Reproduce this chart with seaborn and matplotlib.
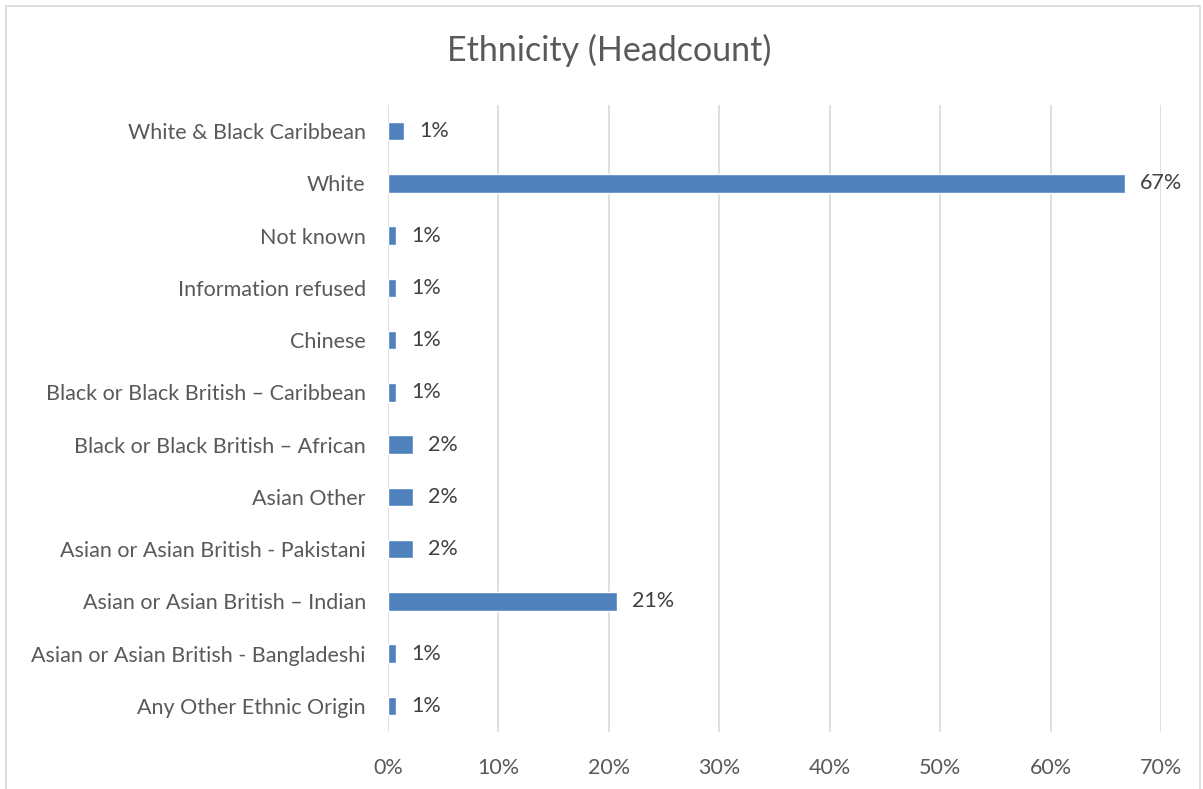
import matplotlib
matplotlib.use("Agg")
import matplotlib.pyplot as plt
import seaborn as sns
import pandas as pd
from matplotlib.patches import Rectangle

categories = [
    "White & Black Caribbean",
    "White",
    "Not known",
    "Information refused",
    "Chinese",
    "Black or Black British \u2013 Caribbean",
    "Black or Black British \u2013 African",
    "Asian Other",
    "Asian or Asian British - Pakistani",
    "Asian or Asian British \u2013 Indian",
    "Asian or Asian British - Bangladeshi",
    "Any Other Ethnic Origin",
]
values = [1.49, 66.7, 0.76, 0.76, 0.76, 0.76, 2.26, 2.26, 2.26, 20.7, 0.76, 0.76]
xticks = [0, 10, 20, 30, 40, 50, 60, 70]

sns.set_theme(style="white")
plt.rcParams["font.family"] = ["Lato", "DejaVu Sans"]

df = pd.DataFrame({"cat": categories, "val": values})

W, H = 1203, 789
fig = plt.figure(figsize=(W / 100, H / 100), dpi=100)
fig.patches.append(Rectangle((6 / W, -0.01), (1200 - 6) / W, 1 - 6 / H + 0.01,
                             transform=fig.transFigure, fill=False,
                             edgecolor="#D9D9D9", linewidth=1.2))
ax = fig.add_axes([388 / W, 1 - 732 / H, (1161 - 388) / W, (732 - 105) / H])

sns.barplot(data=df, x="val", y="cat", order=categories, color="#4F81BD",
            saturation=1, width=0.35, ax=ax)

ax.set_xlim(0, 70)
ax.set_xticks(xticks)
ax.set_xticklabels([f"{t}%" for t in xticks])
ax.set_xlabel("")
ax.set_ylabel("")
ax.grid(axis="x", color="#D9D9D9", linewidth=1.2)
ax.grid(axis="y", visible=False)
ax.set_axisbelow(True)
for s in ax.spines.values():
    s.set_visible(False)
ax.tick_params(axis="both", length=0, labelsize=15.5, colors="#595959")
ax.tick_params(axis="y", pad=16)
ax.tick_params(axis="x", pad=19)

ax.bar_label(ax.containers[0], labels=[f"{v:.0f}%" for v in values],
             padding=11, fontsize=15.5, color="#404040")

fig.text(609 / W, 1 - 50 / H, "Ethnicity (Headcount)", ha="center", va="center",
         fontsize=24.5, color="#595959")

fig.savefig("out.png", dpi=100)
